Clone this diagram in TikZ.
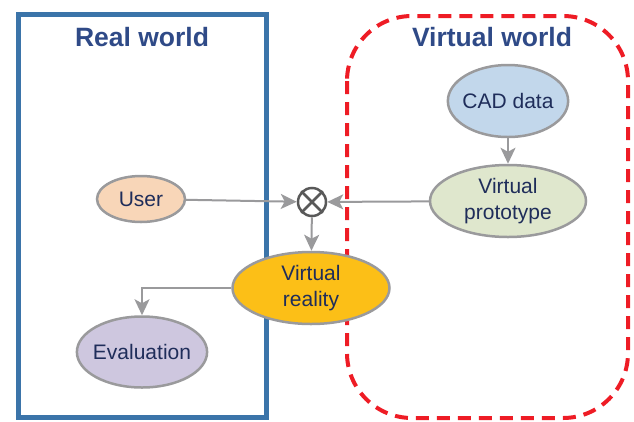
\documentclass[tikz,border=0pt]{standalone}
\usepackage{fontspec}
\setmainfont{Liberation Sans}
\usetikzlibrary{shapes.geometric,arrows.meta}
\definecolor{frameblue}{HTML}{3B74A9}
\definecolor{titleblue}{HTML}{2F4A87}
\definecolor{textnavy}{HTML}{1F2D5A}
\definecolor{edgegray}{HTML}{9A9A9C}
\definecolor{dashred}{HTML}{EE1C25}
\definecolor{userfill}{HTML}{F8D6B8}
\definecolor{cadfill}{HTML}{C2D7EB}
\definecolor{protofill}{HTML}{DFE7CD}
\definecolor{vrfill}{HTML}{FCBF17}
\definecolor{evalfill}{HTML}{CEC7DF}

\begin{document}
\begin{tikzpicture}[x=1pt,y=-1pt,
   blob/.style={draw=edgegray,line width=2.5pt,ellipse,inner sep=-3pt,
      text=textnavy,align=center,font=\fontsize{21}{26}\selectfont},
   conn/.style={draw=edgegray,line width=2pt,-{Stealth[length=16pt,width=15pt,inset=4pt]}},
   worldtitle/.style={text=titleblue,font=\fontsize{26.5}{31}\selectfont\bfseries}]
\useasboundingbox (0,0) rectangle (634,421);
% the two worlds
\draw[frameblue,line width=5pt] (18,14) rectangle (266,417);
\draw[dashred,line width=4pt,dash pattern=on 13pt off 8pt,rounded corners=65pt]
   (347,16) rectangle (628,418);
\node[worldtitle] (realtitle) at (142,37) {Real world};
\node[worldtitle] (virttitle) at (492,37) {Virtual world};
% nodes
\node[blob,fill=userfill,minimum width=88pt,minimum height=46pt] (user) at (141,199) {User};
\node[blob,fill=cadfill,minimum width=120pt,minimum height=72pt] (cad) at (508,101) {CAD data};
\node[blob,fill=protofill,minimum width=156pt,minimum height=72pt] (proto) at (508,201) {Virtual\\prototype};
\node[blob,fill=vrfill,minimum width=157pt,minimum height=72pt] (vr) at (311,288) {Virtual\\reality};
\node[blob,fill=evalfill,minimum width=130pt,minimum height=71pt] (eval) at (142,352) {Evaluation};
\node[circle,draw=black!65,fill=white,line width=2.5pt,minimum size=28pt,inner sep=0pt] (mix) at (312,202) {};
\draw[black!65,line width=2.5pt] (mix.north east) -- (mix.south west)
   (mix.north west) -- (mix.south east);
% connectors
\draw[conn] (cad) -- (proto);
\draw[conn] (user) -- (mix);
\draw[conn] (proto) -- (mix);
\draw[conn] (mix) -- (vr);
\draw[conn] (vr.west) -| (eval.north);
\end{tikzpicture}
\end{document}
